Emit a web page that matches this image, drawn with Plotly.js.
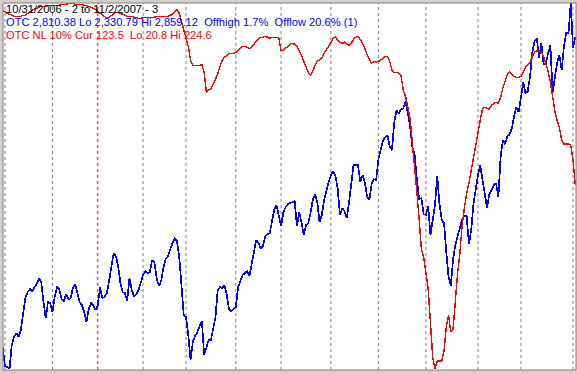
<!DOCTYPE html>
<html>
<head>
<meta charset="utf-8">
<script src="https://cdn.plot.ly/plotly-3.0.1.min.js"></script>
<style>
html,body{margin:0;padding:0;background:#D4D0C8;}
#chart{width:577px;height:373px;}
#chart path.js-line{shape-rendering:crispEdges;}
</style>
</head>
<body>
<div id="chart"></div>
<script>
// Trading-day series from 10/31/2006 to 11/2/2007 (one value per trading day)
const otc = [
2362.5,2334.4,2334.0,2330.8,2365.4,2377.0,2382.7,2377.0,2387.1,2414.5,
2433.3,2441.9,2446.3,2443.4,2449.1,2453.5,2462.1,2456.4,2427.5,2404.4,
2427.5,2426.0,2413.1,2436.2,2449.1,2446.3,2431.8,2428.9,2439.0,2431.8,
2433.3,2447.7,2453.5,2439.0,2427.5,2423.2,2413.1,2398.6,2417.4,2426.0,
2423.2,2415.9,2423.2,2449.1,2433.3,2434.7,2440.5,2457.8,2479.5,2498.2,
2493.9,2479.5,2454.9,2441.9,2440.5,2428.9,2462.1,2444.8,2436.2,2439.0,
2444.8,2457.8,2466.5,2472.2,2469.4,2470.8,2488.1,2485.2,2462.1,2450.6,
2457.8,2476.6,2489.6,2493.9,2504.0,2512.7,2519.9,2515.5,2492.5,2444.8,
2408.7,2405.8,2379.9,2343.8,2369.8,2378.4,2384.2,2392.8,2400.1,2351.0,
2364.0,2372.6,2372.6,2390.0,2405.8,2444.8,2449.1,2447.7,2452.0,2437.6,
2417.4,2414.5,2417.4,2420.3,2449.1,2457.8,2466.5,2469.4,2472.2,2465.0,
2483.8,2502.6,2517.0,2512.7,2505.4,2508.3,2522.8,2525.7,2527.1,2544.4,
2561.7,2567.5,2554.5,2537.2,2557.4,2564.6,2569.0,2570.4,2571.8,2573.3,
2537.2,2557.4,2543.0,2524.2,2538.6,2541.5,2556.0,2574.7,2583.4,2571.8,
2543.0,2553.1,2574.7,2589.2,2600.7,2610.8,2616.6,2609.4,2592.1,2553.1,
2563.2,2558.9,2548.7,2570.4,2596.4,2625.3,2625.3,2625.3,2600.7,2610.8,
2600.7,2580.5,2574.7,2597.8,2605.0,2603.6,2633.9,2645.5,2659.9,2665.7,
2668.6,2652.7,2646.9,2687.3,2704.6,2700.3,2706.1,2707.5,2717.6,2700.3,
2681.5,2651.2,2641.1,2605.0,2576.2,2577.6,2554.5,2553.1,2566.1,2524.2,
2547.3,2567.5,2609.4,2569.0,2545.9,2541.5,2499.7,2463.6,2450.6,2489.6,
2509.8,2521.3,2535.8,2547.3,2551.6,2551.6,2511.2,2531.4,2569.0,2590.6,
2610.8,2625.3,2605.0,2581.9,2563.2,2583.4,2590.6,2596.4,2599.3,2579.1,
2636.8,2661.3,2655.6,2667.1,2670.0,2678.7,2696.0,2709.0,2701.8,2720.5,
2745.1,2729.2,2732.1,2753.7,2788.4,2804.2,2808.6,2779.7,2801.4,2771.0,
2772.5,2786.9,2798.5,2730.6,2752.3,2773.9,2784.0,2762.4,2797.0,2817.0,
2816.0,2859.12,2794.83,2810.38
];

const otcNL = [
220.7,219.6,219.0,218.5,217.9,217.4,217.4,217.4,217.4,217.9,
217.9,219.0,220.1,220.7,221.3,221.8,222.4,222.9,222.9,222.9,
223.5,223.5,223.5,223.5,223.5,223.5,224.0,224.0,224.0,224.6,
224.6,224.6,224.0,224.0,224.0,224.0,223.5,223.5,222.9,222.4,
221.8,221.3,220.1,219.0,217.9,216.8,216.2,216.8,217.9,219.0,
219.6,219.6,219.0,218.5,217.9,217.4,217.4,217.4,216.8,216.8,
216.2,216.2,216.8,216.8,216.8,216.8,216.8,216.8,217.4,217.4,
217.4,217.4,217.4,217.4,217.9,218.5,220.1,221.3,219.0,214.0,
209.0,204.0,200.6,192.9,190.1,190.1,190.1,190.1,190.6,186.2,
175.0,176.1,177.3,179.5,182.3,185.1,189.5,192.9,194.5,195.6,
196.7,196.7,196.7,197.3,198.4,199.5,200.6,200.6,200.1,199.5,
200.1,201.8,203.4,204.5,205.7,205.7,206.2,205.7,205.1,205.7,
205.7,205.7,205.1,198.4,198.4,199.5,200.6,201.8,202.3,201.8,
200.6,198.4,195.6,192.3,189.0,186.2,184.5,186.7,190.1,192.3,
192.9,194.0,196.7,198.4,200.6,202.9,205.1,205.7,204.5,202.9,
202.3,202.9,201.8,201.2,202.3,204.5,205.7,206.2,204.5,202.3,
199.5,196.2,193.4,191.2,192.3,191.7,192.3,192.9,194.0,195.1,
195.1,192.3,187.3,186.2,186.2,185.6,184.5,176.1,172.8,166.1,
160.5,146.6,134.4,119.3,104.3,87.6,83.1,73.1,65.3,46.4,
27.4,20.8,25.2,25.2,25.2,30.8,44.1,50.8,41.3,43.0,
60.3,74.2,85.3,100.9,110.4,118.8,124.3,131.6,138.3,145.5,
152.2,159.4,165.6,166.7,166.1,165.6,167.8,168.9,169.5,168.9,
172.2,177.3,181.7,185.1,186.2,185.1,183.9,183.4,183.4,183.9,
186.7,189.0,190.1,191.7,195.1,197.3,198.4,197.9,197.3,195.1,
190.6,186.7,180.6,172.2,164.4,159.4,155.0,148.3,146.1,146.1,
146.1,145.5,137.2,123.5
];

// Trading-day index of the first session of each month (Nov 2006 .. Nov 2007)
const monthStarts = [1,22,42,62,81,103,123,145,166,187,210,229,252];
const yearStart = 42;

const headerLines = [
  {text: "10/31/2006 - 2 to 11/2/2007 - 3", color: "#000000"},
  {text: "OTC 2,810.38 Lo 2,330.79 Hi 2,859.12\u00a0\u00a0Offhigh 1.7%\u00a0\u00a0Offlow 20.6% (1)", color: "#0000FF"},
  {text: "OTC NL 10% Cur 123.5\u00a0\u00a0Lo 20.8 Hi 224.6", color: "#FF0000"}
];

const days = otc.map((_, i) => i);

const traces = [
  {x: days, y: otc, type: "scatter", mode: "lines", yaxis: "y",
   line: {color: "#0000FF", width: 1.7}, hoverinfo: "skip"},
  {x: days, y: otcNL, type: "scatter", mode: "lines", yaxis: "y2",
   line: {color: "#FF0000", width: 1.4}, hoverinfo: "skip"}
];

const shapes = monthStarts.map(d => ({
  type: "line", xref: "x", yref: "paper", x0: d, x1: d, y0: 0, y1: 1,
  layer: "below",
  line: {color: d === yearStart ? "#FF0000" : "#808080", width: 1, dash: "3px,3px"}
}));
shapes.push({type: "rect", xref: "paper", yref: "paper", x0: 0, x1: 1, y0: 0, y1: 1,
  line: {color: "#808080", width: 1}, layer: "above"});

const W = 577, H = 373, mL = 3, mR = 1, mT = 3, mB = 3;
const plotW = W - mL - mR, plotH = H - mT - mB;
const lineY = [9, 22.5, 35];
const annotations = headerLines.map((l, k) => ({
  xref: "paper", yref: "paper", x: (4 - mL) / plotW, y: (H - mB - lineY[k]) / plotH,
  xanchor: "left", yanchor: "middle", showarrow: false, text: l.text,
  font: {family: "Liberation Sans, Arial, sans-serif", size: 11.15, color: l.color}
}));

const layout = {
  width: W, height: H,
  margin: {l: mL, r: mR, t: mT, b: mB, pad: 0},
  paper_bgcolor: "#D4D0C8", plot_bgcolor: "#FFFFFF",
  showlegend: false,
  xaxis: {range: [0.115, 0.115 + plotW / 2.263], showgrid: false, zeroline: false,
          showticklabels: false, ticks: "", showline: false, fixedrange: true},
  yaxis: {range: [2329.4, 2859.6], showgrid: false, zeroline: false,
          showticklabels: false, ticks: "", showline: false, fixedrange: true},
  yaxis2: {range: [20.2, 224.8], overlaying: "y", side: "right", showgrid: false, zeroline: false,
           showticklabels: false, ticks: "", showline: false, fixedrange: true},
  shapes: shapes,
  annotations: annotations
};

Plotly.newPlot("chart", traces, layout, {staticPlot: true, displayModeBar: false});
</script>
</body>
</html>
